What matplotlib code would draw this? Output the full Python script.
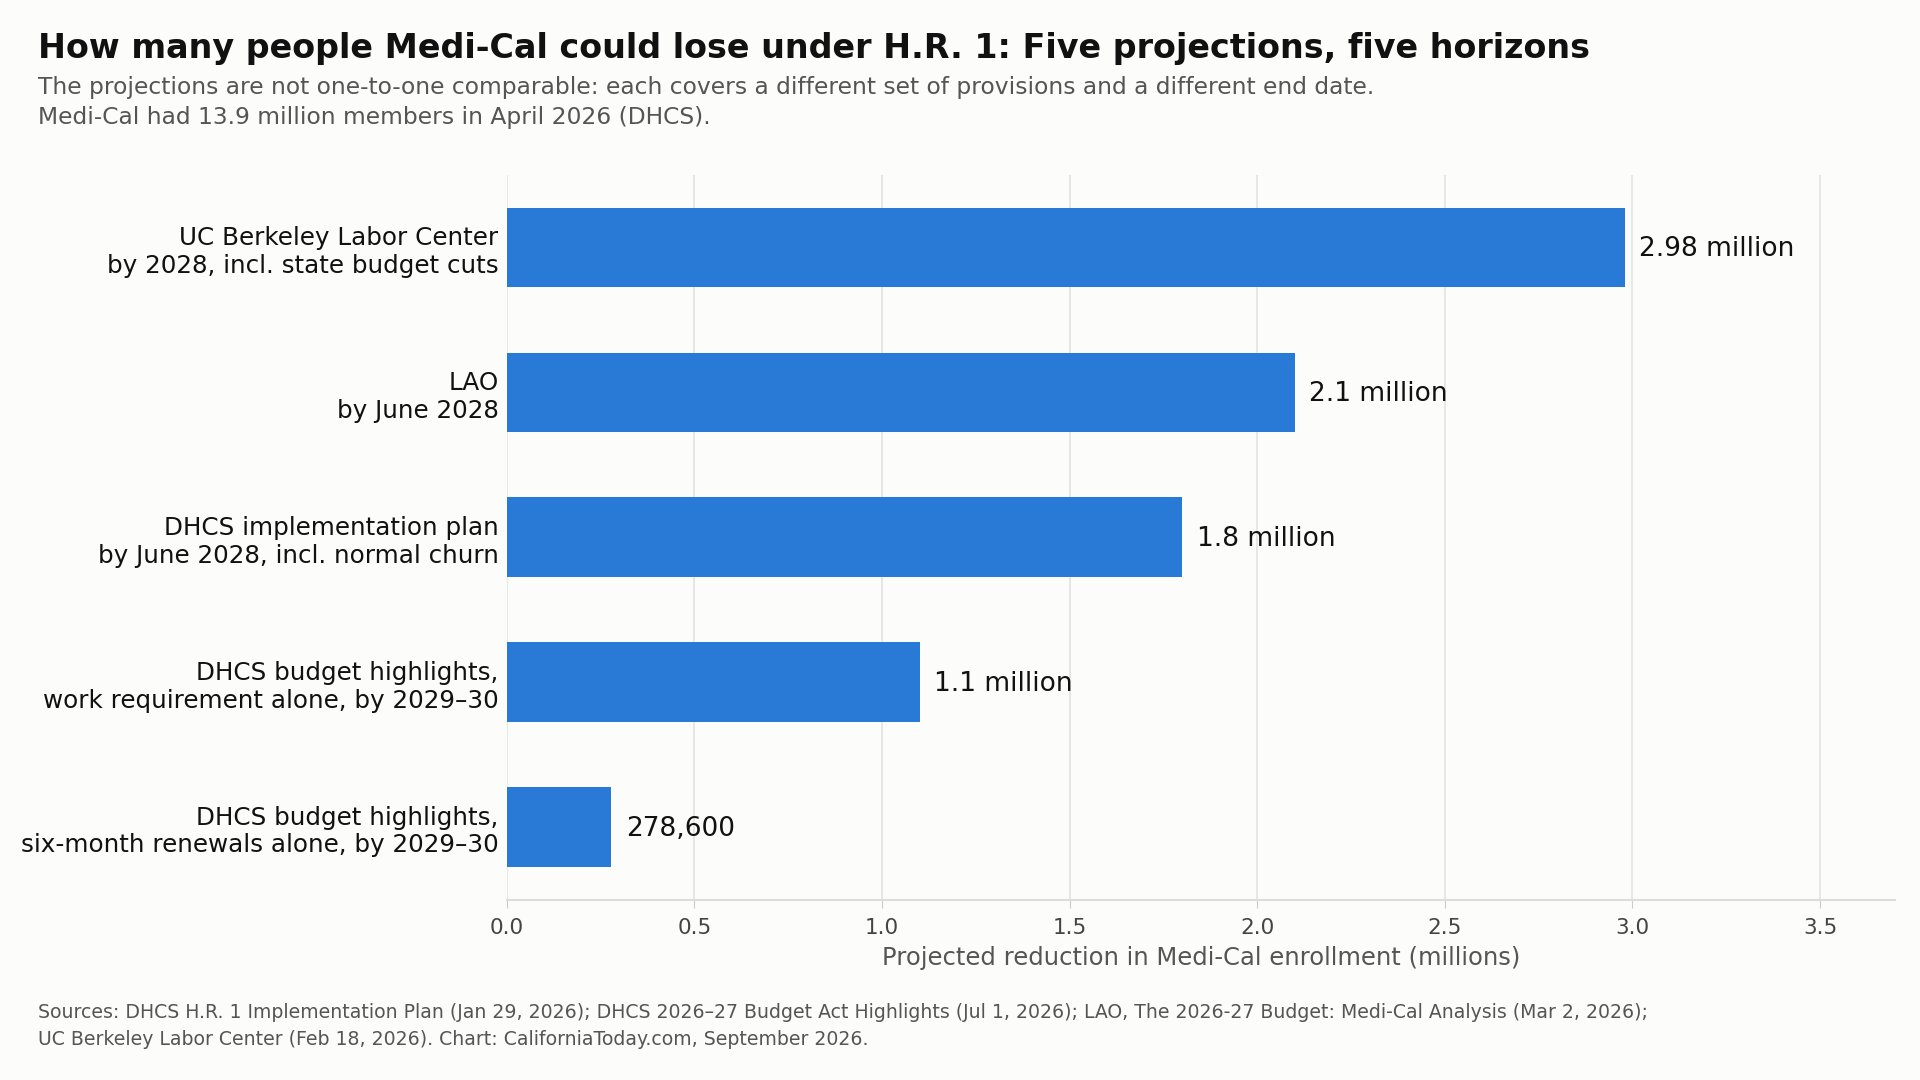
import matplotlib.pyplot as plt

labels = [
    "UC Berkeley Labor Center\nby 2028, incl. state budget cuts",
    "LAO\nby June 2028",
    "DHCS implementation plan\nby June 2028, incl. normal churn",
    "DHCS budget highlights,\nwork requirement alone, by 2029–30",
    "DHCS budget highlights,\nsix-month renewals alone, by 2029–30",
]
values = [2.98, 2.1, 1.8, 1.1, 0.2786]
value_labels = ["2.98 million", "2.1 million", "1.8 million", "1.1 million", "278,600"]
x_ticks = [0.0, 0.5, 1.0, 1.5, 2.0, 2.5, 3.0, 3.5]

bg = "#fcfcfb"
bar_color = "#2979d6"

fig = plt.figure(figsize=(19.2, 10.8), dpi=100, facecolor=bg)
ax = fig.add_axes([0.264, 0.167, 0.723, 0.671], facecolor=bg)

y = list(range(len(values)))
ax.barh(y, values, height=0.55, color=bar_color, zorder=3)
for yi, v, t in zip(y, values, value_labels):
    ax.annotate(t, (v, yi), xytext=(10.5, -1), textcoords="offset points",
                va="center", ha="left", fontsize=19, color="#111111")

ax.set_yticks(y)
ax.set_yticklabels(labels, fontsize=17.7, color="#111111")
ax.set_ylim(len(values) - 0.5, -0.5)
ax.set_xlim(0, 3.7)
ax.set_xticks(x_ticks)
ax.set_xticklabels([f"{t:.1f}" for t in x_ticks], fontsize=15.5, color="#444444")
ax.tick_params(axis="y", length=0, pad=6)
ax.tick_params(axis="x", length=6, color="#cccccc", pad=7)
ax.grid(axis="x", color="#e3e3e3", linewidth=1.2, zorder=0)
for side in ["left", "right", "top"]:
    ax.spines[side].set_visible(False)
ax.spines["bottom"].set_color("#dddddd")
ax.spines["bottom"].set_linewidth(1.5)
ax.set_xlabel("Projected reduction in Medi-Cal enrollment (millions)",
              fontsize=17.5, color="#555555", labelpad=6)

fig.text(0.02, 0.955, "How many people Medi-Cal could lose under H.R. 1: Five projections, five horizons",
         fontsize=24, fontweight="bold", color="#111111", va="center")
fig.text(0.02, 0.905,
         "The projections are not one-to-one comparable: each covers a different set of provisions and a different end date.\n"
         "Medi-Cal had 13.9 million members in April 2026 (DHCS).",
         fontsize=16.8, color="#555555", va="center", linespacing=1.35)
fig.text(0.02, 0.05,
         "Sources: DHCS H.R. 1 Implementation Plan (Jan 29, 2026); DHCS 2026–27 Budget Act Highlights (Jul 1, 2026); "
         "LAO, The 2026-27 Budget: Medi-Cal Analysis (Mar 2, 2026);\n"
         "UC Berkeley Labor Center (Feb 18, 2026). Chart: CaliforniaToday.com, September 2026.",
         fontsize=13.6, color="#555555", va="center", linespacing=1.5)

fig.savefig("out.png", dpi=100, facecolor=bg)
